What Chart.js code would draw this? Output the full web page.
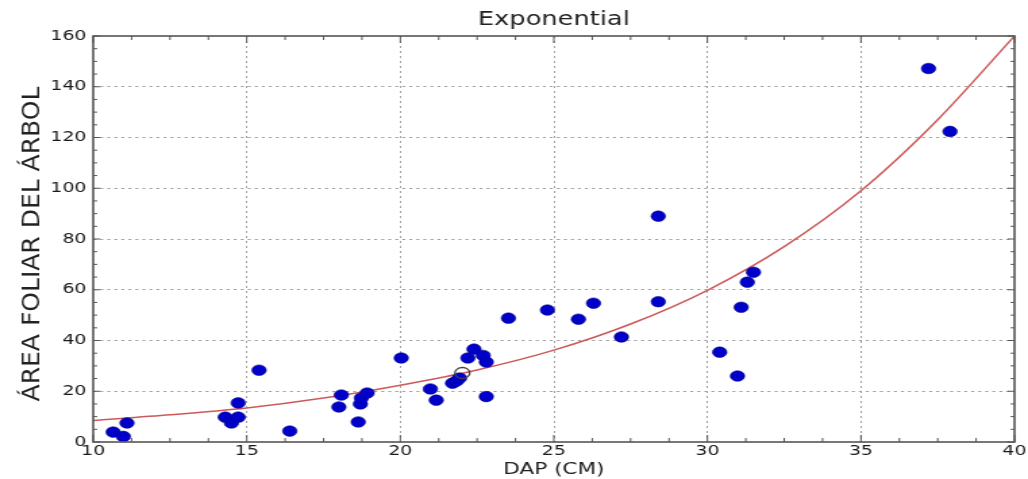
<!DOCTYPE html>
<html>
<head>
<meta charset="utf-8">
<title>Exponential</title>
<script src="https://cdn.jsdelivr.net/npm/chart.js@4.4.1/dist/chart.umd.min.js"></script>
<style>
    html, body { margin: 0; padding: 0; background: #fff; }
</style>
</head>
<body>
<!-- drawn narrow and stretched to 1028 wide, like the source image -->
<canvas id="chart" width="761" height="479" style="display:block;width:1028px;height:479px"></canvas>
<script>
'use strict';

// measured points (DAP in cm, leaf area)
var dap = [10.65, 10.98, 11.1, 14.3, 14.5, 14.72, 14.72, 15.4, 16.4, 18.0,
    18.08, 18.63, 18.7, 18.73, 18.92, 20.03, 20.98, 21.17, 21.7, 21.83,
    21.93, 22.2, 22.4, 22.7, 22.8, 22.8, 23.52, 24.79, 25.8, 26.29,
    27.2, 28.4, 28.4, 30.4, 30.98, 31.1, 31.3, 31.5, 37.2, 37.9];
var area = [3.9, 2.2, 7.5, 9.8, 7.5, 9.8, 15.4, 28.3, 4.3, 13.8,
    18.5, 7.9, 15.0, 17.3, 19.3, 33.1, 20.9, 16.5, 23.2, 24.0,
    25.2, 33.1, 36.6, 34.1, 31.5, 17.9, 48.8, 52.0, 48.4, 54.7,
    41.4, 89.0, 55.3, 35.4, 26.0, 53.1, 63.0, 66.9, 147.2, 122.4];

// highlighted (open) point
var openDap = [22.02];
var openArea = [27.2];

// fitted exponential curve
var fitDap = [10, 12.5, 15, 17.5, 20, 22.5, 25, 27.5, 30, 32.5, 35, 37.5, 40];
var fitArea = [8.5, 10.7, 13.4, 17.3, 22.4, 28.4, 36.2, 46.5, 59.8, 77, 99, 127, 160];

var titleText = 'Exponential';
var xTitle = 'DAP (CM)';
var yTitle = 'ÁREA FOLIAR DEL ÁRBOL';

var S = 1028 / 761; // horizontal stretch of the canvas
var FONT = "'DejaVu Sans', sans-serif";

function pairs(xs, ys) {
    return xs.map((x, i) => ({x: x, y: ys[i]}));
}

// frame, inward ticks and rotated y label (matplotlib look)
var framePlugin = {
    id: 'frame',
    afterDraw(chart) {
        var ctx = chart.ctx;
        var a = chart.chartArea;
        var xs = chart.scales.x;
        var ys = chart.scales.y;
        ctx.save();
        ctx.strokeStyle = '#555';
        ctx.lineWidth = 1;
        var v, p, len;
        for (v = 10; v <= 40.001; v += 1.25) {
            p = xs.getPixelForValue(v);
            len = Math.abs(v % 5) < 0.01 ? 7 : 4;
            ctx.beginPath();
            ctx.moveTo(p, a.bottom); ctx.lineTo(p, a.bottom - len);
            ctx.moveTo(p, a.top); ctx.lineTo(p, a.top + len);
            ctx.stroke();
        }
        for (v = 0; v <= 160; v += 5) {
            p = ys.getPixelForValue(v);
            len = (v % 20 === 0 ? 7 : 4) / S;
            ctx.beginPath();
            ctx.moveTo(a.left, p); ctx.lineTo(a.left + len, p);
            ctx.moveTo(a.right, p); ctx.lineTo(a.right - len, p);
            ctx.stroke();
        }
        ctx.lineWidth = 1.6;
        ctx.strokeStyle = '#555';
        ctx.strokeRect(a.left, a.top, a.right - a.left, a.bottom - a.top);

        ctx.translate(32 / S, 244);
        ctx.scale(1 / S, 1);
        ctx.rotate(-Math.PI / 2);
        ctx.fillStyle = '#222';
        ctx.font = '25px ' + FONT;
        ctx.textAlign = 'center';
        ctx.textBaseline = 'middle';
        ctx.fillText(yTitle, 0, 0);
        ctx.restore();
    }
};

function gridColor(c) {
    var t = c.tick;
    if (!t) return 'rgba(0,0,0,0)';
    var s = c.scale;
    if (t.value <= s.min || t.value >= s.max) return 'rgba(0,0,0,0)';
    return '#a0a0a0';
}

var chart = new Chart(document.getElementById('chart'), {
    type: 'scatter',
    data: {
        datasets: [{
            label: 'data',
            data: pairs(dap, area),
            pointRadius: 5.3,
            pointHoverRadius: 5.3,
            backgroundColor: '#0000c8',
            borderColor: '#00008b',
            borderWidth: 0.6,
            order: 1
        }, {
            label: 'selected',
            data: pairs(openDap, openArea),
            pointRadius: 5.5,
            backgroundColor: 'rgba(0,0,0,0)',
            borderColor: '#444',
            borderWidth: 1.3,
            order: 0
        }, {
            type: 'line',
            label: 'fit',
            data: pairs(fitDap, fitArea),
            showLine: true,
            pointRadius: 0,
            borderColor: '#cc5a5a',
            borderWidth: 1.5,
            tension: 0.3,
            fill: false,
            order: 2
        }]
    },
    options: {
        responsive: false,
        animation: false,
        devicePixelRatio: 1,
        layout: {padding: {left: 0, right: 10, top: 0, bottom: 0}},
        plugins: {
            legend: {display: false},
            tooltip: {enabled: false},
            title: {
                display: true,
                text: titleText,
                fullSize: false,
                color: '#222',
                font: {family: FONT, size: 19, weight: 'normal', lineHeight: 1.2},
                padding: {top: 9, bottom: 4.2}
            }
        },
        scales: {
            x: {
                type: 'linear',
                min: 10,
                max: 40,
                afterFit: scale => { scale.height = 37; },
                ticks: {
                    stepSize: 5,
                    padding: 1,
                    color: '#1a1a1a',
                    font: {family: FONT, size: 14}
                },
                grid: {color: gridColor, lineWidth: 1, drawTicks: false},
                border: {display: false, dash: [2, 3]},
                title: {
                    display: true,
                    text: xTitle,
                    color: '#222',
                    font: {family: FONT, size: 16},
                    padding: {top: 0, bottom: 0}
                }
            },
            y: {
                min: 0,
                max: 160,
                afterFit: scale => { scale.width = 69; },
                ticks: {
                    stepSize: 20,
                    padding: 5,
                    color: '#1a1a1a',
                    font: {family: FONT, size: 14}
                },
                grid: {color: gridColor, lineWidth: 1, drawTicks: false},
                border: {display: false, dash: [2.2, 3]}
            }
        }
    },
    plugins: [framePlugin]
});
</script>
</body>
</html>
